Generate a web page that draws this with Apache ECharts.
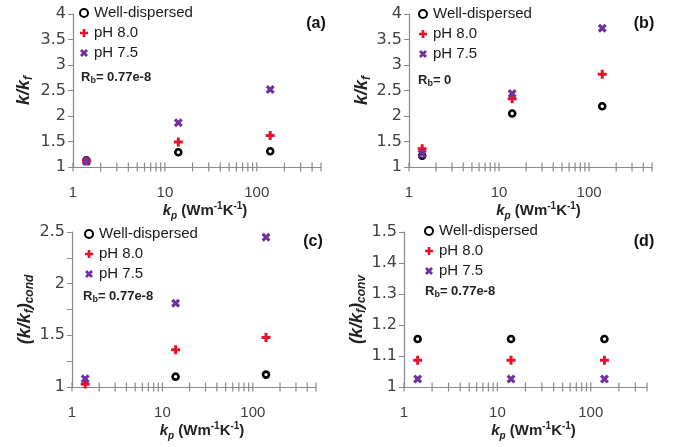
<!DOCTYPE html>
<html>
<head>
<meta charset="utf-8">
<script src="https://cdn.jsdelivr.net/npm/echarts@6/dist/echarts.min.js"></script>
<style>
html,body{margin:0;padding:0;background:#fff;}
#chart{width:684px;height:447px;}
</style>
</head>
<body>
<div id="chart"></div>
<script>
// ---- data ----
const seriesNames = ['Well-dispersed', 'pH 8.0', 'pH 7.5'];
const kpValues = [1.4, 14, 140];
const panelLabels = ['(a)', '(b)', '(c)', '(d)'];
const rbLabels = ['0.77e-8', '0', '0.77e-8', '0.77e-8'];
const xTickValues = [1,2,3,4,5,6,7,8,9,10,20,30,40,50,60,70,80,90,100,200,300,400,500];

const wellA = [1.13, 1.29, 1.31];
const ph80A = [1.12, 1.49, 1.62];
const ph75A = [1.11, 1.87, 2.52];

const wellB = [1.22, 2.05, 2.19];
const ph80B = [1.36, 2.34, 2.82];
const ph75B = [1.26, 2.44, 3.72];

const wellC = [null, 1.10, 1.12];
const ph80C = [1.03, 1.36, 1.48];
const ph75C = [1.08, 1.81, 2.45];

const wellD = [1.155, 1.155, 1.155];
const ph80D = [1.086, 1.086, 1.086];
const ph75D = [1.026, 1.026, 1.026];

const yMinA = 1, yMaxA = 4, yStepA = 0.5;
const yMinC = 1, yMaxC = 2.5, yStepC = 0.5;
const yMinD = 1, yMaxD = 1.5, yStepD = 0.1;
const xMaxABC = 500, xMaxD = 400;

// ---- layout / styles ----
const AX = '#898989';
const LBL = '#404040';
const panels = [
  {grid:{left:73, top:14, width:248, height:153}, y:[yMinA,yMaxA,yStepA], xMax:xMaxABC, data:[wellA,ph80A,ph75A],
   yName:'{i|k/k}{s|f}', yGap:38, legend:{left:79, top:5}, lab:[316,24], rb:[81,77]},
  {grid:{left:409, top:14, width:243, height:153}, y:[yMinA,yMaxA,yStepA], xMax:xMaxABC, data:[wellB,ph80B,ph75B],
   yName:'{i|k/k}{s|f}', yGap:36, legend:{left:418, top:6}, lab:[644,24], rb:[418,80]},
  {grid:{left:72, top:232, width:244, height:155}, y:[yMinC,yMaxC,yStepC], xMax:xMaxABC, data:[wellC,ph80C,ph75C],
   yName:'{i|(k/k}{s|f}{i|)}{s|cond}', yGap:34, minor:true, legend:{left:84, top:226}, lab:[313,242], rb:[83,296]},
  {grid:{left:404, top:232, width:243, height:155}, y:[yMinD,yMaxD,yStepD], xMax:xMaxD, data:[wellD,ph80D,ph75D],
   yName:'{i|(k/k}{s|f}{i|)}{s|conv}', yGap:34, legend:{left:424, top:223}, lab:[644,242], rb:[425,291]}
];

const plusPath = 'path://M-1,-3H1V-1H3V1H1V3H-1V1H-3V-1H-1Z';
const crossPath = 'path://M1.414,-2.828L2.828,-1.414L1.414,0L2.828,1.414L1.414,2.828L0,1.414L-1.414,2.828L-2.828,1.414L-1.414,0L-2.828,-1.414L-1.414,-2.828L0,-1.414Z';
const markerStyles = [
  {symbol:'circle', symbolSize:6, itemStyle:{color:'#ffffff', borderColor:'#000000', borderWidth:2.6, opacity:1}},
  {symbol:plusPath, symbolSize:9, itemStyle:{color:'#e8112d', opacity:1}},
  {symbol:crossPath, symbolSize:9, itemStyle:{color:'#7030a0', opacity:1}}
];

const FONT = 'Liberation Sans';
const grids = [], xAxes = [], yAxes = [], series = [], legends = [], graphics = [];

panels.forEach((p, i) => {
  grids.push(Object.assign({containLabel:false}, p.grid));
  xAxes.push({
    type:'log', logBase:10, gridIndex:i, min:1, max:p.xMax,
    axisLine:{show:true, lineStyle:{color:AX, width:1.2}},
    axisTick:{show:false}, splitLine:{show:false}, minorTick:{show:false},
    axisLabel:{
      margin:18, color:LBL, fontSize:15, fontFamily:FONT,
      formatter:(v) => { const l = Math.log10(v); return Math.abs(l - Math.round(l)) < 1e-6 ? String(Math.round(v)) : ''; }
    },
    name:'{k|k}{ks|p}{t| (Wm}{sp|-1}{t|K}{sp|-1}{t|)}', nameLocation:'middle', nameGap:34,
    nameTextStyle:{
      padding:[0,0,0,16],
      rich:{
        k:{fontFamily:FONT, fontStyle:'italic', fontWeight:'bold', fontSize:15, lineHeight:20, color:'#222'},
        ks:{fontFamily:FONT, fontStyle:'italic', fontWeight:'bold', fontSize:10, lineHeight:10, verticalAlign:'bottom', color:'#222'},
        t:{fontFamily:FONT, fontWeight:'bold', fontSize:15, lineHeight:20, color:'#222'},
        sp:{fontFamily:FONT, fontWeight:'bold', fontSize:10, lineHeight:10, verticalAlign:'top', color:'#222'}
      }
    }
  });
  yAxes.push({
    type:'value', gridIndex:i, min:p.y[0], max:p.y[1], interval:p.y[2],
    axisLine:{show:true, lineStyle:{color:AX, width:1.2}},
    axisTick:{show:true, inside:false, length:5, lineStyle:{color:AX}},
    minorTick:p.minor ? {show:true, splitNumber:2, length:5, lineStyle:{color:AX}} : {show:false},
    splitLine:{show:false},
    axisLabel:{margin:7, color:LBL, fontSize:16, fontFamily:'DejaVu Sans'},
    name:p.yName, nameLocation:'middle', nameRotate:90, nameGap:p.yGap,
    nameTextStyle:{
      rich:{
        i:{fontFamily:FONT, fontStyle:'italic', fontWeight:'bold', fontSize:18, lineHeight:22, color:'#222'},
        s:{fontFamily:FONT, fontStyle:'italic', fontWeight:'bold', fontSize:12, lineHeight:12, verticalAlign:'bottom', color:'#222'}
      }
    }
  });
  // axis tick marks crossing the x axis
  series.push({
    type:'scatter', name:'xticks', xAxisIndex:i, yAxisIndex:i, silent:true, clip:false, z:1,
    symbol:'rect', symbolSize:[1.2, 9], itemStyle:{color:AX, opacity:1},
    data:xTickValues.filter(v => v <= p.xMax).map(v => [v, p.y[0]])
  });
  p.data.forEach((vals, k) => {
    series.push(Object.assign({
      type:'scatter', name:seriesNames[k], xAxisIndex:i, yAxisIndex:i, z:3 + k,
      data:kpValues.map((x, j) => [x, vals[j]]).filter(d => d[1] !== null)
    }, markerStyles[k]));
  });
  legends.push({
    data:seriesNames, orient:'vertical', left:p.legend.left, top:p.legend.top,
    itemWidth:8, itemHeight:8, itemGap:4, padding:0, selectedMode:false,
    itemStyle:{opacity:1},
    textStyle:{fontFamily:FONT, fontSize:15, color:'#1a1a1a', lineHeight:16, padding:[0,0,0,1]}
  });
  graphics.push({
    type:'text', x:p.lab[0], y:p.lab[1],
    style:{text:panelLabels[i], fontFamily:FONT, fontWeight:'bold', fontSize:16, fill:'#111', textAlign:'center', textVerticalAlign:'middle'}
  });
  graphics.push({
    type:'text', x:p.rb[0], y:p.rb[1],
    style:{
      text:'{r|R}{s|b}{r|= ' + rbLabels[i] + '}', textVerticalAlign:'middle', fill:'#222',
      rich:{
        r:{fontFamily:FONT, fontWeight:'bold', fontSize:13, lineHeight:16, fill:'#222'},
        s:{fontFamily:FONT, fontWeight:'bold', fontSize:9, lineHeight:9, verticalAlign:'bottom', fill:'#222'}
      }
    }
  });
});

const chart = echarts.init(document.getElementById('chart'));
chart.setOption({
  animation:false,
  backgroundColor:'#ffffff',
  grid:grids, xAxis:xAxes, yAxis:yAxes, series:series, legend:legends, graphic:graphics
});
</script>
</body>
</html>
